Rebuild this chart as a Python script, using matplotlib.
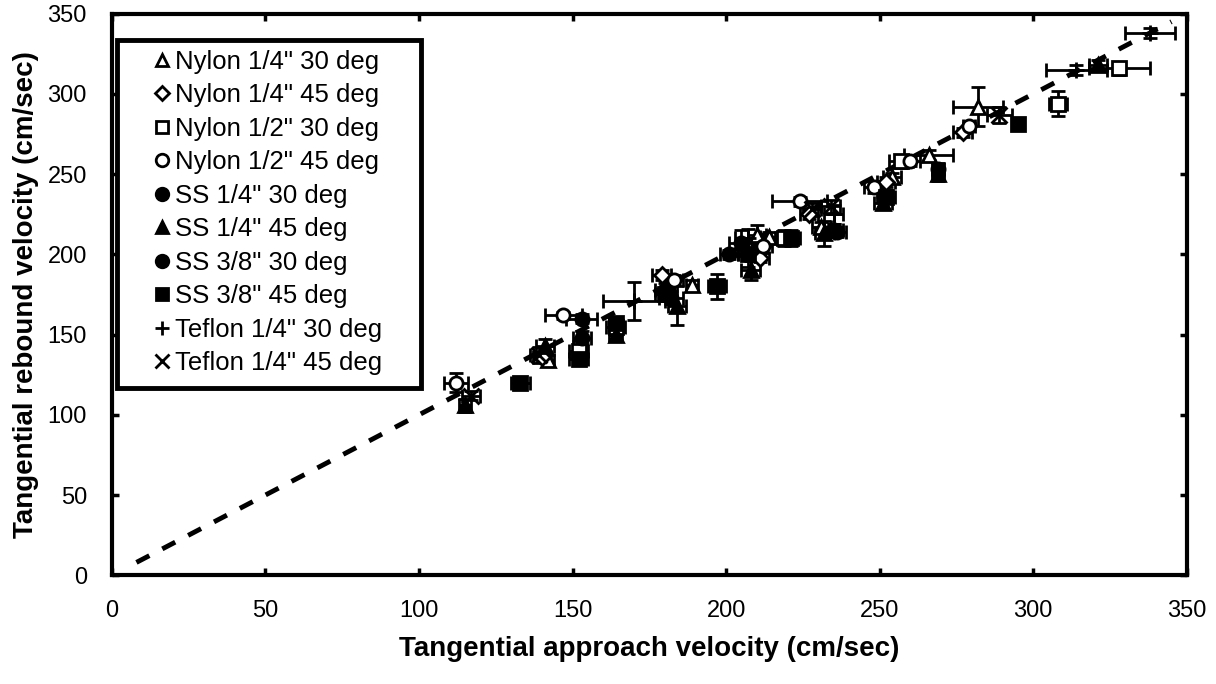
import numpy as np
import matplotlib
matplotlib.use('Agg')
import matplotlib.pyplot as plt
from matplotlib.patches import Rectangle

plt.rcParams['font.family'] = ['Liberation Sans', 'DejaVu Sans']

# 各系列数据 (x, y, xerr, yerr)
nylon14_30_x = [142, 189, 210, 214, 231, 254, 266, 282]
nylon14_30_y = [134, 181, 212, 211, 217, 248, 262, 292]
nylon14_30_xe = [2, 2, 3, 3, 3, 3, 8, 8]
nylon14_30_ye = [3, 3, 6, 3, 3, 3, 3, 12]

nylon14_45_x = [140, 179, 211, 227, 252, 277]
nylon14_45_y = [136, 187, 198, 225, 245, 276]
nylon14_45_xe = [3, 3, 3, 3, 3, 3]
nylon14_45_ye = [3, 3, 3, 3, 3, 3]

nylon12_30_x = [152, 164, 219, 257, 308, 328]
nylon12_30_y = [140, 155, 210, 258, 294, 316]
nylon12_30_xe = [3, 3, 3, 4, 3, 10]
nylon12_30_ye = [6, 5, 5, 4, 8, 4]

nylon12_45_x = [112, 147, 183, 212, 224, 248, 260, 279]
nylon12_45_y = [120, 162, 184, 205, 233, 242, 258, 280]
nylon12_45_xe = [4, 6, 3, 3, 9, 3, 3, 2]
nylon12_45_ye = [6, 2, 3, 4, 3, 4, 3, 2]

ss14_30_x = [153, 180, 201, 235, 269]
ss14_30_y = [148, 178, 200, 215, 253]
ss14_30_xe = [3, 3, 3, 3, 2]
ss14_30_ye = [4, 4, 3, 4, 4]

ss14_45_x = [115, 141, 164, 184, 208, 232, 251, 269, 321]
ss14_45_y = [106, 143, 150, 168, 190, 213, 232, 250, 318]
ss14_45_xe = [2, 3, 2, 3, 3, 3, 3, 2, 3]
ss14_45_ye = [4, 4, 4, 12, 6, 8, 4, 4, 3]

ss38_30_x = [153, 182, 205, 236]
ss38_30_y = [160, 173, 207, 214]
ss38_30_xe = [5, 4, 4, 3]
ss38_30_ye = [3, 4, 8, 3]

ss38_45_x = [133, 152, 164, 180, 197, 207, 221, 252, 295]
ss38_45_y = [120, 135, 157, 175, 180, 200, 210, 236, 281]
ss38_45_xe = [3, 3, 2, 3, 3, 3, 3, 3, 2]
ss38_45_ye = [2, 4, 4, 4, 8, 8, 5, 4, 2]

teflon30_x = [170, 207, 235, 314, 338]
teflon30_y = [171, 210, 225, 315, 338]
teflon30_xe = [10, 4, 3, 10, 8]
teflon30_ye = [12, 6, 6, 3, 3]

teflon45_x = [117, 139, 228, 234, 289]
teflon45_y = [112, 137, 228, 230, 287]
teflon45_xe = [3, 3, 3, 3, 4]
teflon45_ye = [3, 5, 4, 4, 5]

line_x = [8, 345]
line_y = [8, 345]

series = [
    ('Nylon 1/4" 30 deg', nylon14_30_x, nylon14_30_y, nylon14_30_xe, nylon14_30_ye, '^', 'white'),
    ('Nylon 1/4" 45 deg', nylon14_45_x, nylon14_45_y, nylon14_45_xe, nylon14_45_ye, 'D', 'white'),
    ('Nylon 1/2" 30 deg', nylon12_30_x, nylon12_30_y, nylon12_30_xe, nylon12_30_ye, 's', 'white'),
    ('Nylon 1/2" 45 deg', nylon12_45_x, nylon12_45_y, nylon12_45_xe, nylon12_45_ye, 'o', 'white'),
    ('SS 1/4" 30 deg', ss14_30_x, ss14_30_y, ss14_30_xe, ss14_30_ye, 'o', 'black'),
    ('SS 1/4" 45 deg', ss14_45_x, ss14_45_y, ss14_45_xe, ss14_45_ye, '^', 'black'),
    ('SS 3/8" 30 deg', ss38_30_x, ss38_30_y, ss38_30_xe, ss38_30_ye, 'o', 'black'),
    ('SS 3/8" 45 deg', ss38_45_x, ss38_45_y, ss38_45_xe, ss38_45_ye, 's', 'black'),
    ('Teflon 1/4" 30 deg', teflon30_x, teflon30_y, teflon30_xe, teflon30_ye, '+', 'black'),
    ('Teflon 1/4" 45 deg', teflon45_x, teflon45_y, teflon45_xe, teflon45_ye, 'x', 'black'),
]

fig = plt.figure(figsize=(12.16, 6.84), dpi=100)
ax = fig.add_axes([0.092, 0.159, 0.884, 0.821])

ax.plot(line_x, line_y, color='black', lw=3.5, linestyle=(0, (3, 3)), zorder=1)

for name, x, y, xe, ye, m, fc in series:
    ax.errorbar(x, y, xerr=xe, yerr=ye, fmt='none', ecolor='black',
                elinewidth=2, capsize=5, capthick=2, zorder=2)
    ms = 11 if m in ('+', 'x') else 9.5
    if m == 'D':
        ms = 8
    ax.plot(x, y, linestyle='none', marker=m, ms=ms, mfc=fc, mec='black',
            mew=2, label=name, zorder=3)

ax.set_xlim(0, 350)
ax.set_ylim(0, 350)
ax.set_xticks(np.arange(0, 351, 50))
ax.set_yticks(np.arange(0, 351, 50))
ax.tick_params(direction='in', top=True, right=True, length=5, width=2.5,
               labelsize=17, pad=18)
for s in ax.spines.values():
    s.set_linewidth(3)

ax.set_xlabel('Tangential approach velocity (cm/sec)', fontsize=20, fontweight='bold', labelpad=10)
ax.set_ylabel('Tangential rebound velocity (cm/sec)', fontsize=20, fontweight='bold', labelpad=6)

# 图例框
box = Rectangle((0.0047, 0.333), 0.283, 0.621, transform=ax.transAxes,
                facecolor='white', edgecolor='black', lw=3.5, zorder=4)
ax.add_patch(box)
leg = ax.legend(loc='upper left', bbox_to_anchor=(0.038, 0.936), borderaxespad=0,
                fontsize=18.5, frameon=False, handlelength=0.7, handletextpad=0.15,
                labelspacing=0.37, borderpad=0, markerscale=0.95)
leg.set_zorder(5)

plt.savefig('out.png', dpi=100)
